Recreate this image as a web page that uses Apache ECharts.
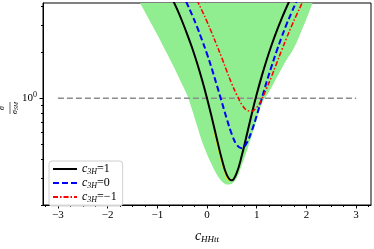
<!DOCTYPE html>
<html><head><meta charset="utf-8">
<script src="https://cdn.jsdelivr.net/npm/echarts@6/dist/echarts.min.js"></script>
<style>html,body{margin:0;padding:0;background:#fff}#c{width:374px;height:249px}</style>
</head><body><div id="c"></div>
<script>
// ---- data ----
const xTicks = [-3, -2, -1, 0, 1, 2, 3];
const xMinorTicks = [-3.25, -2.75, -2.5, -2.25, -1.75, -1.5, -1.25, -0.75, -0.5, -0.25,
  0.25, 0.5, 0.75, 1.25, 1.5, 1.75, 2.25, 2.5, 2.75, 3.25];
const yMajorTicks = [1];
const yMinorTicks = [0.2, 0.3, 0.4, 0.5, 0.6, 0.7, 0.8, 0.9, 2, 3, 4];

const refX = [-3, 3];
const refY = [1, 1];

// lower edge of the green band (band extends above the plot)
const bandX = [-1.5, -1.4, -1.3, -1.2, -1.1, -1.0, -0.9, -0.8, -0.7, -0.6, -0.5, -0.4, -0.3, -0.2, -0.1,
  0.0, 0.1, 0.2, 0.3, 0.4, 0.5, 0.6, 0.7, 0.8, 0.9, 1.0, 1.1, 1.2, 1.3, 1.4, 1.5, 1.6, 1.7, 1.8, 1.9, 2.0, 2.1, 2.2];
const bandLow = [5.2, 4.52, 3.94, 3.43, 2.99, 2.60, 2.25, 1.95, 1.68, 1.44, 1.23, 1.05, 0.84, 0.66, 0.52,
  0.43, 0.365, 0.315, 0.285, 0.272, 0.276, 0.30, 0.365, 0.45, 0.57, 0.72, 0.92, 1.04, 1.18, 1.36, 1.56, 1.78, 2.0, 2.3, 2.75, 3.3, 4.0, 4.9];

// c3H = 1
const blackX = [-0.7, -0.6, -0.5, -0.4, -0.3, -0.2, -0.1, 0.0, 0.1, 0.2, 0.3, 0.4, 0.5, 0.6, 0.7, 0.8, 0.9,
  1.0, 1.1, 1.2, 1.3, 1.4, 1.5, 1.6, 1.7];
const blackY = [4.48, 3.81, 3.19, 2.63, 2.14, 1.70, 1.32, 1.00, 0.74, 0.539, 0.397, 0.314, 0.290, 0.326, 0.421,
  0.574, 0.788, 1.06, 1.39, 1.78, 2.23, 2.74, 3.31, 3.94, 4.62];
// thin yellow band peeking out beside the c3H=1 curve near its minimum
const yellowX = [0.15, 0.25, 0.35, 0.45, 0.52];
const yellowY = [0.601, 0.44, 0.336, 0.292, 0.296];
// c3H = 0
const blueX = [-0.5, -0.4, -0.3, -0.2, -0.1, 0.0, 0.1, 0.2, 0.3, 0.4, 0.5, 0.6, 0.7, 0.8, 0.9, 1.0, 1.1,
  1.2, 1.3, 1.4, 1.5, 1.6, 1.7, 1.8, 1.9];
const blueY = [4.86, 4.15, 3.51, 2.93, 2.40, 1.95, 1.55, 1.21, 0.94, 0.73, 0.58, 0.495, 0.47, 0.51, 0.61, 0.77, 0.99,
  1.28, 1.62, 2.03, 2.50, 3.04, 3.63, 4.29, 5.01];
// c3H = -1
const redX = [-0.3, -0.2, -0.1, 0.0, 0.1, 0.2, 0.3, 0.4, 0.5, 0.6, 0.7, 0.8, 0.9, 1.0, 1.1, 1.2, 1.3, 1.4,
  1.5, 1.6, 1.7, 1.8, 1.9, 2.0];
const redY = [5.06, 4.37, 3.74, 3.17, 2.66, 2.21, 1.83, 1.50, 1.24, 1.05, 0.91, 0.835, 0.823, 0.87, 0.98, 1.16, 1.39, 1.69,
  2.05, 2.47, 2.96, 3.50, 4.11, 4.78];

const seriesNames = ['c3H=1', 'c3H=0', 'c3H=-1'];
const legendRich = {
  'c3H=1': '{i|c}{s|3H}{n|=1}',
  'c3H=0': '{i|c}{s|3H}{n|=0}',
  'c3H=-1': '{i|c}{s|3H}{n|=\u22121}'
};

const zip = (xs, ys) => xs.map((x, i) => [x, ys[i]]);
const SERIF = 'Liberation Serif, DejaVu Serif, serif';

const chart = echarts.init(document.getElementById('c'), null, {renderer: 'canvas'});
chart.setOption({
  animation: false,
  backgroundColor: '#fff',
  grid: {left: 43, right: 3, top: 3, bottom: 36, show: true, borderColor: '#000', borderWidth: 1, backgroundColor: 'transparent'},
  xAxis: [{
    type: 'value', min: -3.3, max: 3.3, position: 'bottom',
    axisLine: {show: true, onZero: false, lineStyle: {color: '#000', width: 1}},
    axisTick: {show: true, inside: false, length: 3.5, customValues: xTicks, lineStyle: {color: '#000'}},
    axisLabel: {show: true, customValues: xTicks, margin: 5, color: '#000', fontFamily: SERIF, fontSize: 11,
      formatter: v => (v < 0 ? '\u2212' + Math.abs(v) : String(v))},
    splitLine: {show: false},
    name: '{i|c}{s|HHtt}', nameLocation: 'middle', nameGap: 23,
    nameTextStyle: {rich: {
      i: {fontFamily: SERIF, fontStyle: 'italic', fontSize: 14, color: '#000', lineHeight: 16},
      s: {fontFamily: SERIF, fontStyle: 'italic', fontSize: 9, color: '#000', lineHeight: 10, verticalAlign: 'bottom'}
    }}
  }, {
    type: 'value', min: -3.3, max: 3.3, position: 'bottom',
    axisLine: {show: false, onZero: false},
    axisTick: {show: true, inside: false, length: 2, customValues: xMinorTicks, lineStyle: {color: '#000'}},
    axisLabel: {show: false}, splitLine: {show: false}
  }],
  yAxis: [{
    type: 'log', logBase: 10, min: 0.2, max: 4.2, position: 'left',
    axisLine: {show: true, onZero: false, lineStyle: {color: '#000', width: 1}},
    axisTick: {show: true, inside: false, length: 3.5, customValues: yMajorTicks, lineStyle: {color: '#000'}},
    axisLabel: {show: true, customValues: yMajorTicks, margin: 6, color: '#000',
      formatter: () => '{b|10}{p|0}',
      rich: {
        b: {fontFamily: SERIF, fontSize: 11, color: '#000', lineHeight: 14},
        p: {fontFamily: SERIF, fontSize: 8, color: '#000', lineHeight: 14, verticalAlign: 'top'}
      }},
    splitLine: {show: false}
  }, {
    type: 'log', logBase: 10, min: 0.2, max: 4.2, position: 'left',
    axisLine: {show: false, onZero: false},
    axisTick: {show: true, inside: false, length: 2, customValues: yMinorTicks, lineStyle: {color: '#000'}},
    axisLabel: {show: false}, splitLine: {show: false}
  }],
  legend: {
    left: 49, top: 161, orient: 'vertical',
    data: seriesNames,
    itemWidth: 24, itemHeight: 10, itemGap: 1,
    padding: [2, 6, 2, 3],
    borderColor: '#d0d0d0', borderWidth: 1, borderRadius: 3,
    backgroundColor: 'rgba(255,255,255,0.85)',
    itemStyle: {color: 'rgba(0,0,0,0)', borderColor: 'rgba(0,0,0,0)', borderWidth: 0, opacity: 0},
    formatter: name => legendRich[name],
    textStyle: {rich: {
      i: {fontFamily: SERIF, fontStyle: 'italic', fontSize: 12, color: '#000', lineHeight: 14},
      s: {fontFamily: SERIF, fontStyle: 'italic', fontSize: 8, color: '#000', lineHeight: 9, verticalAlign: 'bottom'},
      n: {fontFamily: SERIF, fontSize: 12, color: '#000', lineHeight: 14}
    }}
  },
  series: [{
    name: 'band', type: 'line', xAxisIndex: 0, yAxisIndex: 0,
    data: zip(bandX, bandLow), symbol: 'none', smooth: 0.3, silent: true, z: 1,
    lineStyle: {width: 0, color: '#90ee90'},
    areaStyle: {color: '#90ee90', opacity: 1, origin: 'end'}
  }, {
    name: 'ref', type: 'line', xAxisIndex: 0, yAxisIndex: 0,
    data: zip(refX, refY), symbol: 'none', silent: true, z: 2,
    lineStyle: {color: '#8c8c8c', width: 1.5, type: [6, 3]}
  }, {
    name: 'yellow', type: 'line', xAxisIndex: 0, yAxisIndex: 0,
    data: zip(yellowX, yellowY), symbol: 'none', smooth: true, silent: true, z: 3,
    lineStyle: {color: '#f2e600', width: 1.6}
  }, {
    name: 'c3H=1', type: 'line', xAxisIndex: 0, yAxisIndex: 0,
    data: zip(blackX, blackY), symbol: 'none', smooth: 0.4, z: 4,
    lineStyle: {color: '#000', width: 2, type: 'solid'}, itemStyle: {color: '#000'}
  }, {
    name: 'c3H=0', type: 'line', xAxisIndex: 0, yAxisIndex: 0,
    data: zip(blueX, blueY), symbol: 'none', smooth: 0.4, z: 5,
    lineStyle: {color: '#0000ff', width: 2, type: [6, 3]}, itemStyle: {color: '#0000ff'}
  }, {
    name: 'c3H=-1', type: 'line', xAxisIndex: 0, yAxisIndex: 0,
    data: zip(redX, redY), symbol: 'none', smooth: 0.4, z: 6,
    lineStyle: {color: '#ff0000', width: 1.5, type: [5, 2, 1.5, 2]}, itemStyle: {color: '#ff0000'}
  }],
  graphic: [{
    type: 'group', x: 10, y: 108, rotation: Math.PI / 2,
    children: [{
      type: 'text', x: 0, y: -4,
      style: {text: 'σ', font: 'italic 8px ' + SERIF, fill: '#000', align: 'center', verticalAlign: 'bottom'}
    }, {
      type: 'line', shape: {x1: -6, y1: 0, x2: 6, y2: 0}, style: {stroke: '#000', lineWidth: 0.6}
    }, {
      type: 'text', x: 0, y: 1,
      style: {text: '{a|σ}{b|SM}', align: 'center', verticalAlign: 'top',
        rich: {a: {font: 'italic 8px ' + SERIF, fill: '#000'}, b: {font: 'italic 6px ' + SERIF, fill: '#000', verticalAlign: 'bottom'}}}
    }]
  }]
});
</script>
</body></html>
